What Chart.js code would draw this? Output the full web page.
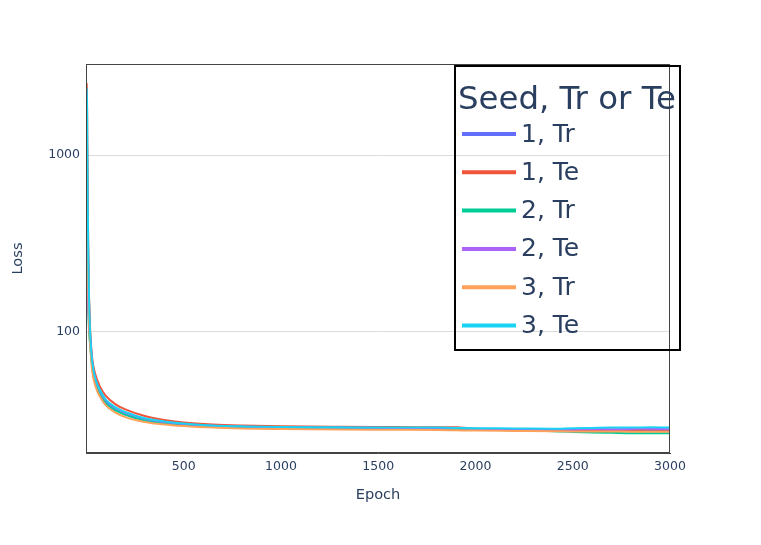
<!DOCTYPE html>
<html><head><meta charset="utf-8">
<script src="https://cdn.jsdelivr.net/npm/chart.js@4.4.1/dist/chart.umd.min.js"></script>
<style>html,body{margin:0;padding:0;background:#fff;}</style>
</head><body>
<canvas id="c" width="761" height="545"></canvas>
<script>
const epochs = [1, 2, 3, 4, 5, 7, 10, 14, 20, 30, 45, 70, 100, 150, 200, 300, 400, 500, 650, 800, 1000, 1300, 1600, 1800, 1900, 2000, 2200, 2400, 2500, 2600, 2700, 2800, 2900, 3000];
const seed1Tr = [1300, 1250, 1150, 1000, 800, 450, 230, 140, 92, 64, 52.5, 45, 40, 36.3, 34.2, 31.8, 30.6, 29.8, 29.2, 28.9, 28.6, 28.5, 28.4, 28.3, 28.3, 28.2, 28.0, 27.9, 27.8, 27.8, 27.7, 27.7, 27.6, 27.6];
const seed1Te = [2550, 2450, 2200, 1700, 1150, 560, 270, 155, 100, 71, 58, 49, 43.5, 39, 36.5, 33.5, 31.8, 30.8, 30.0, 29.6, 29.3, 29.1, 29.0, 28.9, 28.9, 28.4, 28.2, 28.1, 28.1, 28.0, 28.1, 28.0, 28.1, 28.0];
const seed2Tr = [290, 280, 265, 245, 220, 170, 130, 100, 83, 63, 52, 44.5, 39.5, 36, 34, 31.6, 30.4, 29.7, 29.1, 28.8, 28.5, 28.4, 28.3, 28.2, 28.2, 28.0, 27.8, 27.5, 27.2, 27.0, 26.9, 26.8, 26.8, 26.8];
const seed2Te = [240, 235, 225, 212, 198, 165, 135, 110, 92, 67, 55, 46.5, 41, 37.2, 35, 32.3, 31, 30.2, 29.5, 29.2, 28.9, 28.8, 28.7, 28.6, 28.6, 28.4, 28.2, 28.0, 28.1, 28.3, 28.2, 28.3, 28.4, 28.2];
const seed3Tr = [540, 520, 480, 420, 360, 250, 160, 110, 82, 60, 50, 43, 38.5, 35, 33, 31, 30, 29.4, 28.8, 28.5, 28.3, 28.1, 28.0, 27.9, 27.8, 27.7, 27.6, 27.5, 27.4, 27.4, 27.4, 27.3, 27.3, 27.3];
const seed3Te = [2400, 2300, 2050, 1600, 1080, 530, 255, 150, 95, 68, 55, 47, 41.5, 37.5, 35.3, 32.5, 31.2, 30.4, 29.6, 29.3, 29.0, 28.9, 28.8, 28.8, 28.7, 28.6, 28.5, 28.4, 28.6, 28.7, 28.8, 28.8, 28.9, 28.8];
const seriesLabels = ['1, Tr', '1, Te', '2, Tr', '2, Te', '3, Tr', '3, Te'];
const seriesValues = [seed1Tr, seed1Te, seed2Tr, seed2Te, seed3Tr, seed3Te];
const seriesColors = ['#636efa', '#EF553B', '#00cc96', '#ab63fa', '#FFA15A', '#19d3f3'];
const xTickValues = [500, 1000, 1500, 2000, 2500, 3000];
const yTickValues = [100, 1000];
const legendTitle = 'Seed, Tr or Te';
const xTitle = 'Epoch';
const yTitle = 'Loss';

const FONT = "'DejaVu Sans', sans-serif";
const TXT = '#2a3f5f';

const datasets = seriesLabels.map((lab, i) => ({
  label: lab,
  data: epochs.map((e, j) => ({x: e, y: seriesValues[i][j]})),
  borderColor: seriesColors[i],
  backgroundColor: seriesColors[i],
  borderWidth: 2,
  pointRadius: 0,
  fill: false,
  cubicInterpolationMode: 'monotone',
  order: seriesLabels.length - i
}));

const framePlugin = {
  id: 'frame',
  afterDatasetsDraw(chart) {
    const {ctx, chartArea: a} = chart;
    ctx.save();
    ctx.strokeStyle = '#444';
    ctx.lineWidth = 1;
    ctx.strokeRect(a.left + 0.5, a.top + 0.5, a.right - a.left - 1, a.bottom - a.top - 1);
    ctx.restore();
  }
};

const legendPlugin = {
  id: 'customLegend',
  afterDraw(chart) {
    const {ctx, chartArea: a} = chart;
    const bx = a.right - 215, by = a.top + 2, bw = 225, bh = 284;
    ctx.save();
    ctx.strokeStyle = '#000';
    ctx.lineWidth = 2;
    ctx.strokeRect(bx, by, bw, bh);
    ctx.fillStyle = TXT;
    ctx.textBaseline = 'alphabetic';
    ctx.textAlign = 'left';
    ctx.font = "32.4px " + FONT;
    ctx.fillText(legendTitle, bx + 3, by + 43);
    ctx.font = "25px " + FONT;
    ctx.textBaseline = 'middle';
    chart.data.datasets.forEach((ds, i) => {
      const y = by + 68 + i * 38.3;
      ctx.strokeStyle = ds.borderColor;
      ctx.lineWidth = 4;
      ctx.beginPath();
      ctx.moveTo(bx + 7, y);
      ctx.lineTo(bx + 61, y);
      ctx.stroke();
      ctx.fillStyle = TXT;
      ctx.fillText(ds.label, bx + 66, y + 1);
    });
    ctx.restore();
  }
};

new Chart(document.getElementById('c'), {
  type: 'line',
  data: {datasets},
  plugins: [framePlugin, legendPlugin],
  options: {
    responsive: false,
    animation: false,
    devicePixelRatio: 1,
    layout: {padding: {top: 64, right: 91, bottom: 0, left: 0}},
    plugins: {legend: {display: false}, tooltip: {enabled: false}},
    scales: {
      x: {
        type: 'linear',
        min: -2,
        max: 3000,
        afterBuildTicks: s => { s.ticks = xTickValues.map(v => ({value: v})); },
        afterFit: s => { s.height = 92; },
        grid: {display: false, drawTicks: false},
        border: {display: true, color: '#444', width: 1},
        ticks: {color: TXT, font: {family: FONT, size: 12.5}, padding: 6, maxRotation: 0,
                callback: v => String(v)},
        title: {display: true, text: xTitle, color: TXT, font: {family: FONT, size: 14.6},
                padding: {top: 0, bottom: 41}}
      },
      y: {
        type: 'logarithmic',
        min: 20.7,
        max: 3268,
        afterBuildTicks: s => { s.ticks = yTickValues.map(v => ({value: v})); },
        afterFit: s => { s.width = 86; },
        grid: {color: '#dcdcdc', drawTicks: false, lineWidth: 1},
        border: {display: true, color: '#444', width: 1},
        ticks: {color: TXT, font: {family: FONT, size: 12.5}, padding: 6,
                callback: v => String(v)},
        title: {display: true, text: yTitle, color: TXT, font: {family: FONT, size: 14.6},
                padding: {top: 9, bottom: 0}}
      }
    }
  }
});
</script>
</body></html>
